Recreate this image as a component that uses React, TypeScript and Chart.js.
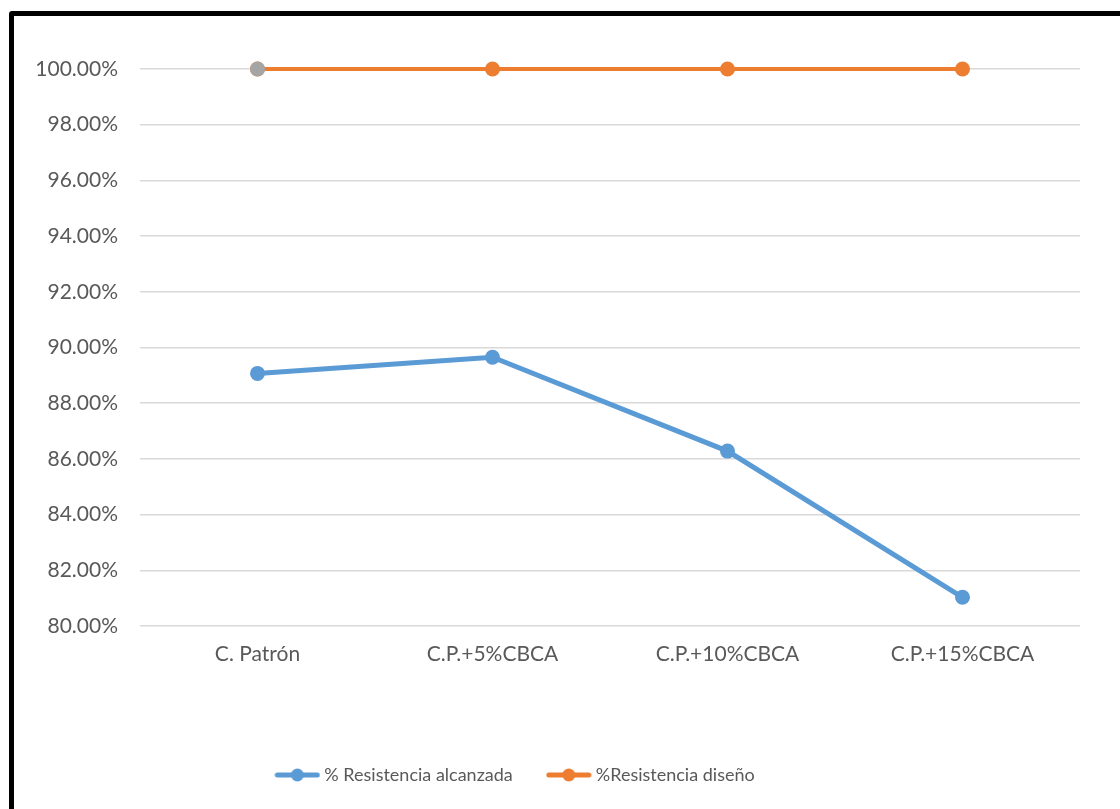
import React, { useEffect, useRef } from "react";
import { Chart, registerables } from "chart.js";

Chart.register(...registerables);

const categories = ["C. Patrón", "C.P.+5%CBCA", "C.P.+10%CBCA", "C.P.+15%CBCA"];
const resistenciaAlcanzada = [0.8907, 0.8965, 0.8628, 0.8103];
const resistenciaDiseno = [1.0, 1.0, 1.0, 1.0];
const serieAuxiliar = [1.0, null, null, null];
const yTicks = [0.8, 0.82, 0.84, 0.86, 0.88, 0.9, 0.92, 0.94, 0.96, 0.98, 1.0];

const BLUE = "#5B9BD5";
const ORANGE = "#ED7D31";
const GREY = "#A5A5A5";
const TEXT = "#595959";
const FONT = "Lato, 'Open Sans', sans-serif";

// Legend sits left of the canvas centre, as in the workbook chart.
const LEGEND_SHIFT = -30;

function legendSwatch(color: string): HTMLCanvasElement {
  const c = document.createElement("canvas");
  c.width = 46;
  c.height = 14;
  const g = c.getContext("2d")!;
  g.strokeStyle = color;
  g.lineWidth = 5;
  g.lineCap = "round";
  g.beginPath();
  g.moveTo(3, 7);
  g.lineTo(43, 7);
  g.stroke();
  g.fillStyle = color;
  g.beginPath();
  g.arc(23, 7, 6.5, 0, Math.PI * 2);
  g.fill();
  return c;
}

const legendOffset = {
  id: "legendOffset",
  afterLayout(chart: any) {
    if (chart.legend) {
      chart.legend.left += LEGEND_SHIFT;
      chart.legend.right += LEGEND_SHIFT;
    }
  },
};

export default function App() {
  const ref = useRef<HTMLCanvasElement | null>(null);

  useEffect(() => {
    if (!ref.current) return;
    const swatches = [legendSwatch(BLUE), legendSwatch(ORANGE)];
    const chart = new Chart(ref.current, {
      type: "line",
      plugins: [legendOffset],
      data: {
        labels: categories,
        datasets: [
          {
            label: "% Resistencia alcanzada",
            data: resistenciaAlcanzada,
            borderColor: BLUE,
            backgroundColor: BLUE,
            borderWidth: 5,
            pointRadius: 7.5,
            pointBorderWidth: 0,
            pointBackgroundColor: BLUE,
            clip: false,
            order: 0,
          },
          {
            label: "%Resistencia diseño",
            data: resistenciaDiseno,
            borderColor: ORANGE,
            backgroundColor: ORANGE,
            borderWidth: 4,
            pointRadius: 7.5,
            pointBorderWidth: 0,
            pointBackgroundColor: ORANGE,
            clip: false,
            order: 0,
          },
          {
            label: "Serie 3",
            data: serieAuxiliar,
            showLine: false,
            borderColor: GREY,
            backgroundColor: GREY,
            pointRadius: 7.5,
            pointBorderWidth: 0,
            pointBackgroundColor: GREY,
            clip: false,
            order: -1,
          },
        ],
      },
      options: {
        animation: false,
        responsive: false,
        layout: { padding: { top: 53, right: 40, left: 0, bottom: 15 } },
        plugins: {
          tooltip: { enabled: false },
          legend: {
            position: "bottom",
            labels: {
              usePointStyle: true,
              pointStyleWidth: 36,
              padding: 38,
              color: TEXT,
              font: { family: FONT, size: 18 },
              filter: (item) => item.datasetIndex !== 2,
              generateLabels: (ch) => {
                const items = Chart.defaults.plugins.legend.labels.generateLabels(ch);
                return items.map((it) => ({
                  ...it,
                  pointStyle: it.datasetIndex! < 2 ? swatches[it.datasetIndex!] : it.pointStyle,
                }));
              },
            },
          },
        },
        scales: {
          x: {
            offset: true,
            grid: { display: false },
            border: { display: false },
            ticks: { color: TEXT, font: { family: FONT, size: 21 }, padding: 8 },
            afterFit: (s: any) => {
              s.height = 102;
            },
          },
          y: {
            min: 0.8,
            max: 1.0,
            afterBuildTicks: (s: any) => {
              s.ticks = yTicks.map((v) => ({ value: v }));
            },
            grid: { color: "#D9D9D9", lineWidth: 1.5, drawTicks: false },
            border: { display: false },
            ticks: {
              color: TEXT,
              font: { family: FONT, size: 21 },
              padding: 22,
              callback: (v: any) => (Number(v) * 100).toFixed(2) + "%",
            },
            afterFit: (s: any) => {
              s.width = 126;
            },
          },
        },
      },
    });
    return () => chart.destroy();
  }, []);

  return (
    <div
      style={{
        position: "fixed",
        left: 9,
        top: 11,
        width: 1200,
        height: 900,
        border: "5px solid #000",
        borderRadius: 3,
        background: "#fff",
      }}
    >
      <canvas ref={ref} width={1106} height={793} style={{ display: "block" }} />
    </div>
  );
}
